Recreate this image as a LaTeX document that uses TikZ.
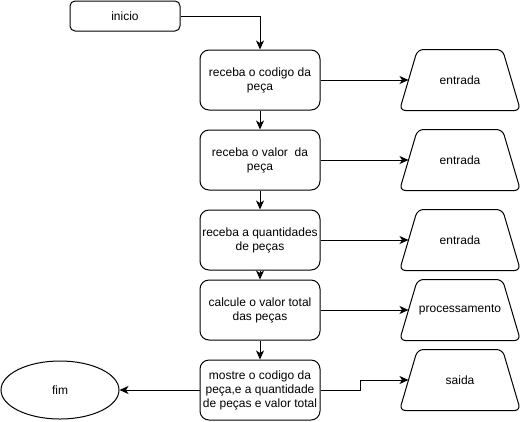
\documentclass[tikz,border=0pt]{standalone}
\usepackage{fontspec}
\setmainfont{Liberation Sans}
\usetikzlibrary{shapes.geometric,arrows.meta}

\begin{document}
\begin{tikzpicture}[x=1pt,y=-1pt,line width=1pt,
    font=\fontsize{12}{14}\selectfont,
    passo/.style={draw,rounded corners=9pt,minimum width=120pt,minimum height=60pt,align=center,inner sep=0pt},
    dado/.style={minimum width=120pt,minimum height=60pt,inner sep=0pt},
    seta/.style={-{Stealth[length=9pt,width=8pt,inset=2.5pt]}}]
  \useasboundingbox (0,0) rectangle (521,421);

  \node[draw,rounded corners=5pt,minimum width=110pt,minimum height=30pt] (ini) at (125,16) {inicio};

  % passos
  \node[passo] (b1) at (260,80)  {receba o codigo da\\peça};
  \node[passo] (b2) at (260,160) {receba o valor\ \ da\\peça};
  \node[passo] (b3) at (260,240) {receba a quantidades\\de peças};
  \node[passo] (b4) at (260,310) {calcule o valor total\\das peças};
  \node[passo] (b5) at (260,390) {mostre o codigo da\\peça,e a quantidade\\de peças e valor total};

  %------ tipos
  \node[dado] (t1) at (460,80)  {entrada};
  \node[dado] (t2) at (460,160) {entrada};
  \node[dado] (t3) at (460,240) {entrada};
  \node[dado] (t4) at (460,310) {processamento};
  \node[dado] (t5) at (460,380) {saida};

  \foreach \t in {t1,t2,t3,t4,t5}
    \draw[rounded corners=6pt] (\t.south) -- (\t.south west) -- ([xshift=18pt]\t.north west)
      -- ([xshift=-18pt]\t.north east) -- (\t.south east) -- cycle;

  \node[draw,ellipse,minimum width=118pt,minimum height=58pt] (fim) at (60,390) {fim};

  \draw[seta] (ini.east) -| (b1.north);
  \draw[seta] (b1) -- (b2);
  \draw[seta] (b2) -- (b3);
  \draw[seta] (b3) -- (b4);
  \draw[seta] (b4) -- (b5);

  \draw[seta] (b1) -- ([xshift=9pt]t1.west);
  \draw[seta] (b2) -- ([xshift=9pt]t2.west);
  \draw[seta] (b3) -- ([xshift=9pt]t3.west);
  \draw[seta] (b4) -- ([xshift=9pt]t4.west);
  \draw[seta] (b5.east) -- ++(40,0) |- ([xshift=9pt]t5.west);

  \draw[seta] (b5) -- (fim);
\end{tikzpicture}
\end{document}
